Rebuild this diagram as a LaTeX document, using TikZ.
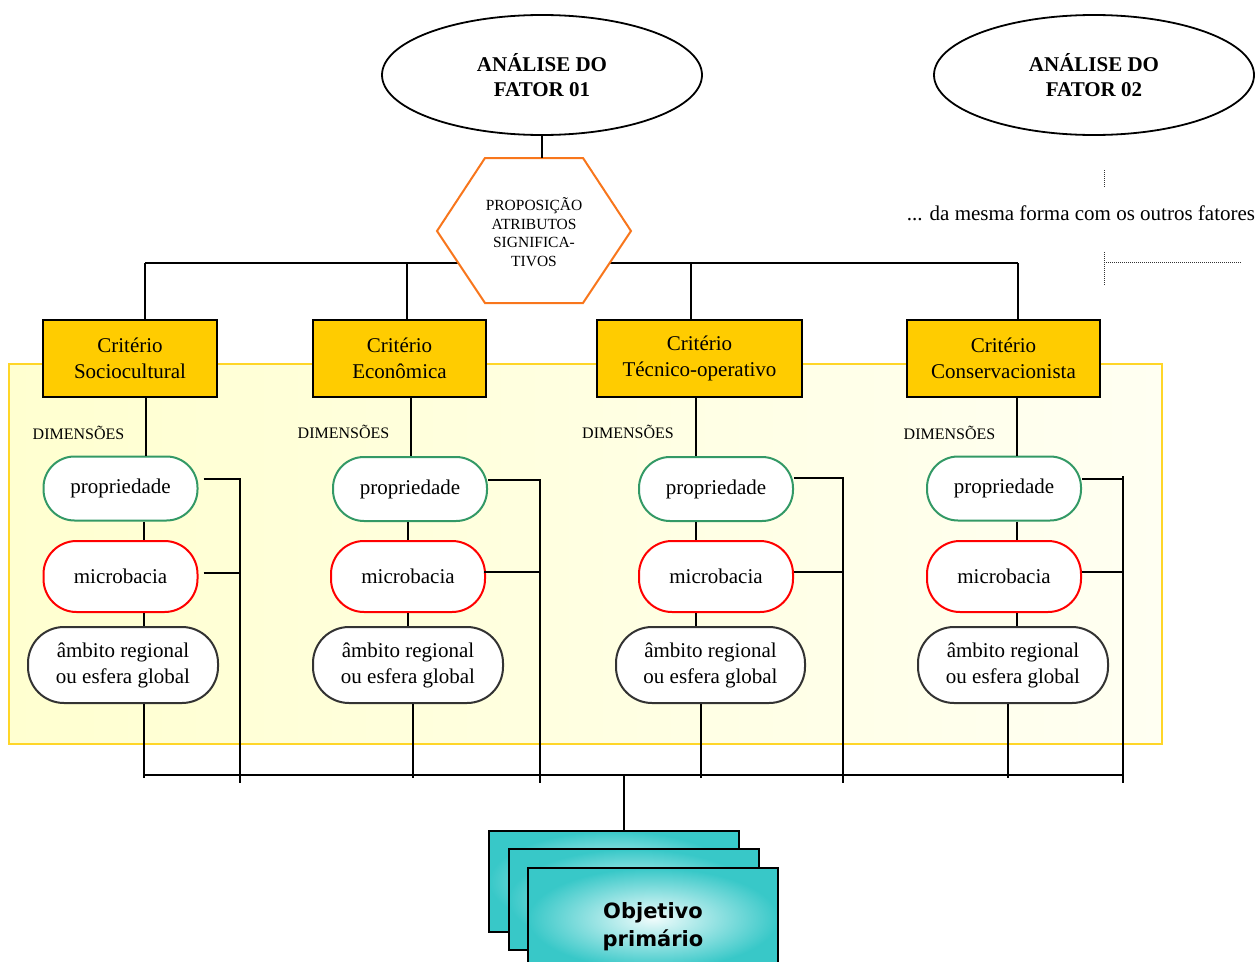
\documentclass[tikz,border=0pt]{standalone}
\usepackage{fontspec}
\setmainfont{Liberation Serif}
\newfontfamily\objfont{DejaVu Sans}
\usetikzlibrary{shapes.geometric,calc}

\definecolor{critfill}{RGB}{255,204,0}
\definecolor{hexorange}{RGB}{248,118,28}
\definecolor{propgreen}{RGB}{51,153,102}
\definecolor{microred}{RGB}{255,0,0}
\definecolor{ambdark}{RGB}{51,51,51}
\definecolor{panelL}{RGB}{255,255,208}
\definecolor{panelR}{RGB}{255,255,242}
\definecolor{panelborder}{RGB}{255,214,40}
\definecolor{tealedge}{RGB}{56,200,200}
\definecolor{tealcore}{RGB}{240,252,252}

\begin{document}
\begin{tikzpicture}[x=1pt,y=-1pt,
  conn/.style={line width=2pt, black},
  dotline/.style={line width=1pt, black!80, dash pattern=on 1pt off 1pt},
  factor/.style={ellipse, draw, line width=1.8pt, fill=white, minimum width=320pt,
    minimum height=120pt, inner sep=0pt, align=center,
    font=\fontsize{21}{25}\selectfont\bfseries},
  crit/.style={rectangle, draw, line width=2pt, fill=critfill, minimum height=77pt,
    inner sep=0pt, align=center, font=\fontsize{21}{26}\selectfont},
  dimbox/.style={rectangle, draw, line width=2pt, fill=white,
    inner sep=0pt, align=center, font=\fontsize{21}{26}\selectfont},
  prop/.style={dimbox, rounded corners=31pt, draw=propgreen, minimum width=154pt, minimum height=64pt},
  micro/.style={dimbox, rounded corners=33pt, draw=microred, minimum width=154pt, minimum height=71pt},
  amb/.style={dimbox, rounded corners=36pt, draw=ambdark, minimum width=190pt, minimum height=76pt},
  dimlabel/.style={font=\fontsize{16}{19}\selectfont, inner sep=0pt},
  objbox/.style={rectangle, draw, line width=2pt, minimum width=250pt,
    minimum height=101pt, inner color=tealcore, outer color=tealedge}
]
\useasboundingbox (0,0) rectangle (1260,961);
\clip (0,0) rectangle (1260,961);

% yellow panel behind the dimensions
\draw[panelborder, line width=2pt, left color=panelL, right color=panelR]
  (9,364) rectangle (1162,744);

% factor ellipses
\node[factor] (f1) at (542,75) {ANÁLISE DO\\FATOR 01};
\node[factor] (f2) at (1094,75) {ANÁLISE DO\\FATOR 02};

% criteria
\node[crit, minimum width=174pt] (c1) at (130,358.5)   {Critério\\Sociocultural};
\node[crit, minimum width=173pt] (c2) at (399.5,358.5) {Critério\\Econômica};
\node[crit, minimum width=205pt] (c3) at (699.5,358.5) {Critério\\Técnico-operativo};
\node[crit, minimum width=193pt] (c4) at (1003.5,358.5){Critério\\Conservacionista};

% bus from the proposition down to the criteria
\coordinate (t1) at (145,263);
\coordinate (t2) at (407,263);
\coordinate (t3) at (691,263);
\coordinate (t4) at (1018,263);
\draw[conn, line width=2.3pt] (t1) -- (t4);
\draw[conn] (t1) -- (t1 |- c1.north);
\draw[conn] (t2) -- (t2 |- c2.north);
\draw[conn] (t3) -- (t3 |- c3.north);
\draw[conn] (t4) -- (t4 |- c4.north);

% proposition hexagon
\coordinate (hextop) at (542,158);
\filldraw[hexorange, fill=white, line width=2pt]
  (485,158) -- (583,158) -- (631,231) -- (583,303) -- (485,303) -- (437,231) -- cycle;
\node[align=center, inner sep=0pt, font=\fontsize{15.5}{18.7}\selectfont] (hex) at (534,232)
  {PROPOSIÇÃO\\ATRIBUTOS\\SIGNIFICA-\\TIVOS};
\draw[conn] (f1.south) -- (f1.south |- hextop);

% other factors note
\node[inner sep=0pt, font=\fontsize{21}{25}\selectfont] (note) at (1081,213)
  {... da mesma forma com os outros fatores};
\coordinate (q1) at (1104,170);
\coordinate (q2) at (1104,188);
\coordinate (q3) at (1104,252);
\coordinate (q4) at (1104,285);
\coordinate (q5) at (1104,262);
\coordinate (q6) at (1241,262);
\draw[dotline] (q1) -- (q2);
\draw[dotline] (q3) -- (q4);
\draw[dotline] (q5) -- (q6);

% dimension labels
\node[dimlabel] (d1) at (78.5,433)  {DIMENSÕES};
\node[dimlabel] (d2) at (343.5,432) {DIMENSÕES};
\node[dimlabel] (d3) at (628,432)   {DIMENSÕES};
\node[dimlabel] (d4) at (949.5,433) {DIMENSÕES};

% dimension nodes
\node[prop]  (p1) at (120.5,488.5) {propriedade};
\node[micro] (m1) at (120.5,576.5) {microbacia};
\node[amb]   (a1) at (123,665)     {âmbito regional\\ou esfera global};

\node[prop]  (p2) at (410,489)     {propriedade};
\node[micro] (m2) at (408,576.5)   {microbacia};
\node[amb]   (a2) at (408,665)     {âmbito regional\\ou esfera global};

\node[prop]  (p3) at (716,489)     {propriedade};
\node[micro] (m3) at (716,576.5)   {microbacia};
\node[amb, minimum width=189pt] (a3) at (710.5,665) {âmbito regional\\ou esfera global};

\node[prop]  (p4) at (1004,488.5)  {propriedade};
\node[micro] (m4) at (1004,576.5)  {microbacia};
\node[amb]   (a4) at (1013,665)    {âmbito regional\\ou esfera global};

% column x positions
\coordinate (k1) at (146,0);  \coordinate (s1) at (144,0);  \coordinate (e1) at (144,0);  \coordinate (b1) at (240,0);
\coordinate (k2) at (411,0);  \coordinate (s2) at (408,0);  \coordinate (e2) at (413,0);  \coordinate (b2) at (540,0);
\coordinate (k3) at (696,0);  \coordinate (s3) at (696,0);  \coordinate (e3) at (701,0);  \coordinate (b3) at (843,0);
\coordinate (k4) at (1017,0); \coordinate (s4) at (1017,0); \coordinate (e4) at (1008,0); \coordinate (b4) at (1123,0);

% bottom bus
\coordinate (busL) at (144,775);
\coordinate (busR) at (1123,775);
\draw[conn] (busL) -- (busR);

% vertical chains
\foreach \i in {1,2,3,4}{
  \draw[conn] (c\i.south -| k\i) -- (p\i.north -| k\i);
  \draw[conn] (p\i.south -| s\i) -- (m\i.north -| s\i);
  \draw[conn] (m\i.south -| s\i) -- (a\i.north -| s\i);
  \draw[conn] (a\i.south -| e\i) -- (e\i |- busL) -- ++(0,3);
}

% side brackets
\draw[conn] ([xshift=5pt,yshift=9.5pt]p1.east) -| (b1 |- 0,783);
\draw[conn] ([xshift=5pt,yshift=3.5pt]m1.east) -- ([yshift=3.5pt]m1.east -| b1);
\draw[conn] ([yshift=9pt]p2.east) -| (b2 |- 0,783);
\draw[conn] ([xshift=-2pt,yshift=4.5pt]m2.east) -- ([yshift=4.5pt]m2.east -| b2);
\draw[conn] ([yshift=11pt]p3.east) -| (b3 |- 0,783);
\draw[conn] ([yshift=4.5pt]m3.east) -- ([yshift=4.5pt]m3.east -| b3);
\draw[conn] ([yshift=9.5pt]p4.east) -| (b4 |- 0,783);
\draw[conn] ([yshift=4.5pt]m4.east) -- ([yshift=4.5pt]m4.east -| b4);
\draw[conn] (b4 |- 0,476) -- ([yshift=9.5pt]p4.east -| b4);

% primary objective stack
\node[objbox] (ob1) at (614,881.5) {};
\node[objbox] (ob2) at (633.5,899.5) {};
\node[objbox] (ob3) at (653,918.5) {};
\node[align=center, inner sep=0pt, font=\objfont\bfseries\fontsize{21}{28}\selectfont] (objtxt)
  at (653,927) {Objetivo\\primário};
\coordinate (busC) at (624,775);
\draw[conn] (busC) -- (busC |- ob1.north);
\end{tikzpicture}
\end{document}
